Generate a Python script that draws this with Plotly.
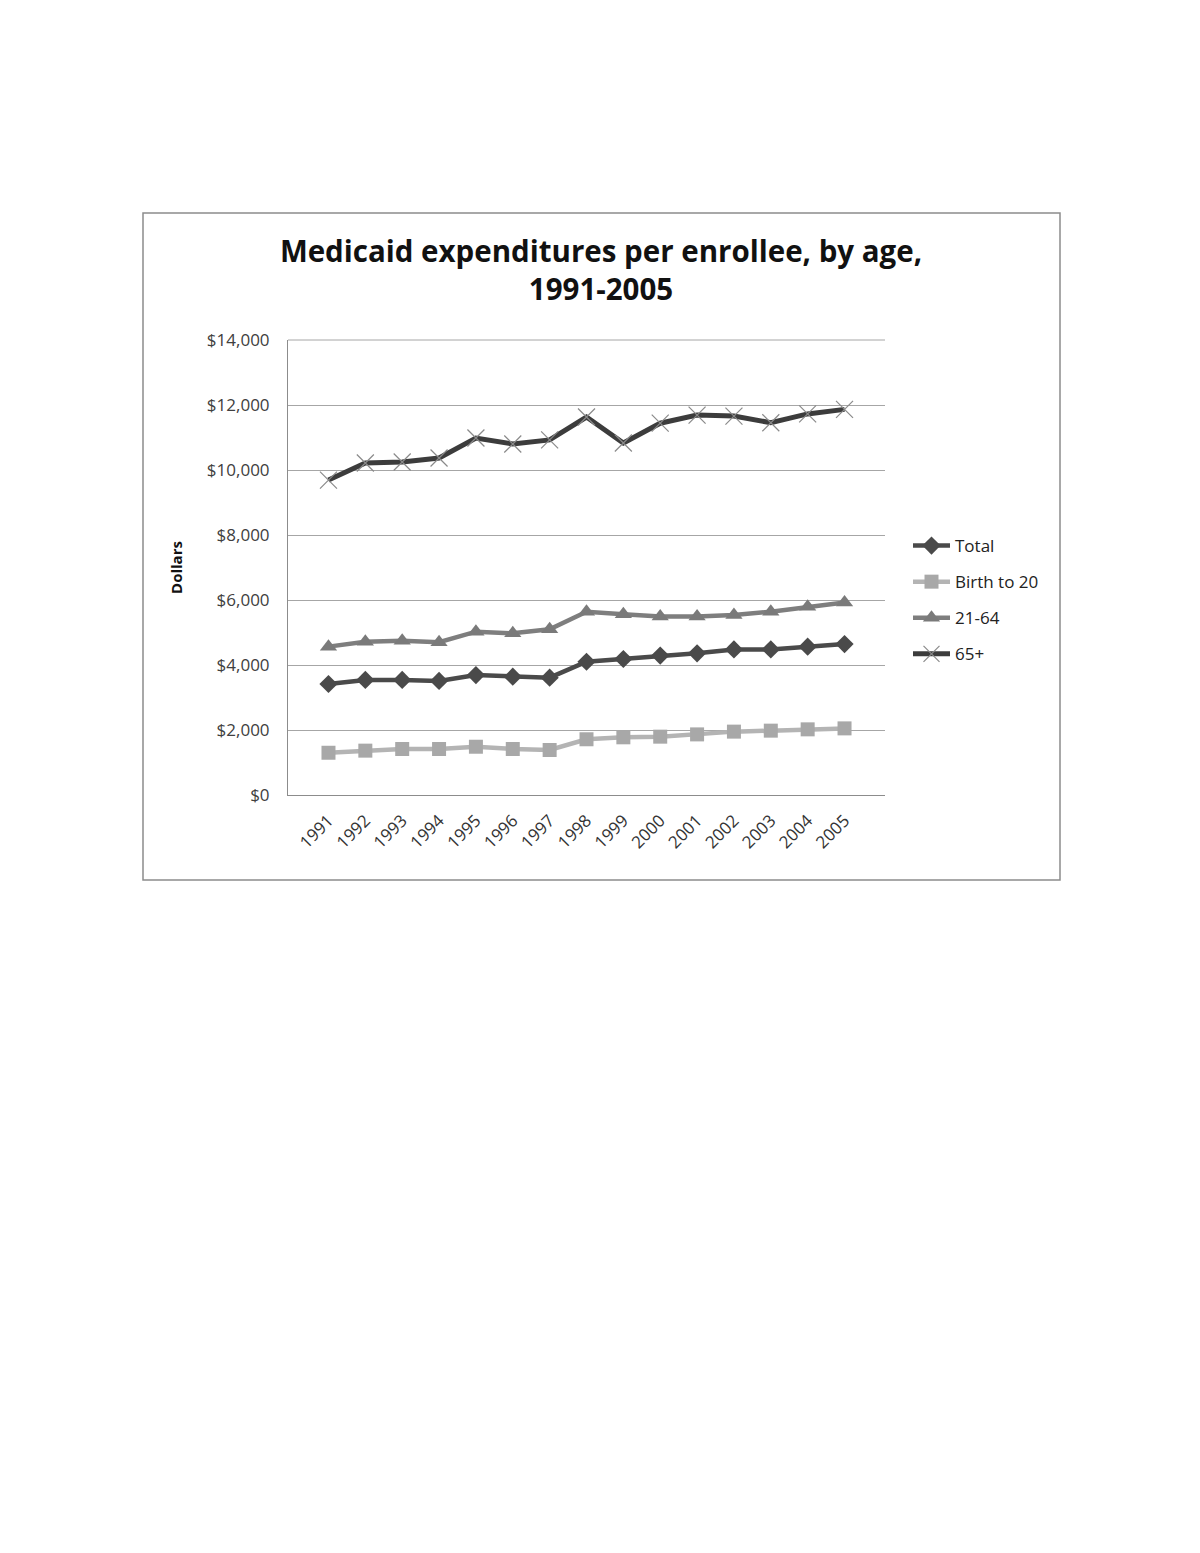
import plotly.graph_objects as go

years = [str(y) for y in range(1991, 2006)]
total = [3415, 3540, 3540, 3510, 3690, 3640, 3610, 4100, 4185, 4290, 4360, 4480, 4480, 4565, 4645]
birth_to_20 = [1300, 1365, 1415, 1415, 1485, 1415, 1385, 1715, 1775, 1795, 1865, 1950, 1980, 2020, 2050]
age_21_64 = [4565, 4715, 4750, 4700, 5025, 4975, 5100, 5640, 5560, 5490, 5490, 5540, 5640, 5795, 5920]
age_65_plus = [9690, 10215, 10245, 10370, 10985, 10800, 10925, 11630, 10830, 11440, 11690, 11660, 11455, 11725, 11865]

W, H = 1200, 1553
OFF = 8  # page body margin
L, R, T, B = 288 - OFF, 885 - OFF, 340 - OFF, 795 - OFF

def px(xp):
    return (xp - OFF - L) / (R - L)

def py(yp):
    return 1 - (yp - OFF - T) / (B - T)

fig = go.Figure()
fig.add_trace(go.Scatter(x=years, y=total, name="Total", mode="lines+markers", legendgroup="a",
                         line=dict(color="#4a4a4a", width=4.5),
                         marker=dict(symbol="diamond", size=14, color="#4a4a4a")))
fig.add_trace(go.Scatter(x=years, y=birth_to_20, name="Birth to 20", mode="lines+markers", legendgroup="b",
                         line=dict(color="#b4b4b4", width=4.5),
                         marker=dict(symbol="square", size=14, color="#a8a8a8")))
fig.add_trace(go.Scatter(x=years, y=age_21_64, name="21-64", mode="lines+markers", legendgroup="c",
                         line=dict(color="#7e7e7e", width=4.5),
                         marker=dict(symbol="triangle-up", size=15, color="#7a7a7a")))
fig.add_trace(go.Scatter(x=years, y=age_65_plus, name="65+", mode="lines+markers", legendgroup="d",
                         line=dict(color="#3c3c3c", width=5),
                         marker=dict(symbol="x-thin", size=17, color="#3c3c3c",
                                     line=dict(color="#8a8a8a", width=1.2))))

fig.update_layout(
    width=W, height=H,
    margin=dict(l=L, r=W - R, t=T, b=H - B, pad=0),
    paper_bgcolor="white", plot_bgcolor="white",
    font=dict(family="Open Sans, Lato, sans-serif", color="#404040"),
    title=dict(text="<b>Medicaid expenditures per enrollee, by age,<br>1991-2005</b>",
               x=(601 - OFF) / W, xanchor="center", y=1 - (262 - OFF) / H, yanchor="top",
               font=dict(size=29.5, color="#111111", family="Open Sans, sans-serif")),
    xaxis=dict(type="category", showgrid=False, showline=True, linecolor="#8c8c8c",
               linewidth=1, ticks="", tickangle=-45, ticklabelstandoff=8,
               tickfont=dict(size=17, color="#333333")),
    yaxis=dict(range=[0, 14000], dtick=2000, tickprefix="$", tickformat=",d",
               showgrid=True, gridcolor="#a6a6a6", gridwidth=1,
               showline=True, linecolor="#8c8c8c", linewidth=1, ticks="",
               ticklabelstandoff=14, zeroline=False,
               tickfont=dict(size=17, color="#404040"),
               title=dict(text="<b>Dollars</b>", standoff=20,
                          font=dict(size=15, color="#111111"))),
    legend=dict(x=px(908), xanchor="left", y=py(528), yanchor="top",
                font=dict(size=17, color="#222222"), tracegroupgap=11, itemwidth=37,
                bgcolor="rgba(0,0,0,0)"),
    showlegend=True,
)

# top gridline at $14,000
fig.add_shape(type="line", xref="paper", yref="paper", x0=0, x1=1, y0=1, y1=1,
              line=dict(color="#a6a6a6", width=1))

# outer chart border
fig.add_shape(type="rect", xref="paper", yref="paper",
              x0=px(143), x1=px(1060), y0=py(880), y1=py(213),
              line=dict(color="#8c8c8c", width=1.5), fillcolor="rgba(0,0,0,0)", layer="below")

fig.write_html("out.html")
